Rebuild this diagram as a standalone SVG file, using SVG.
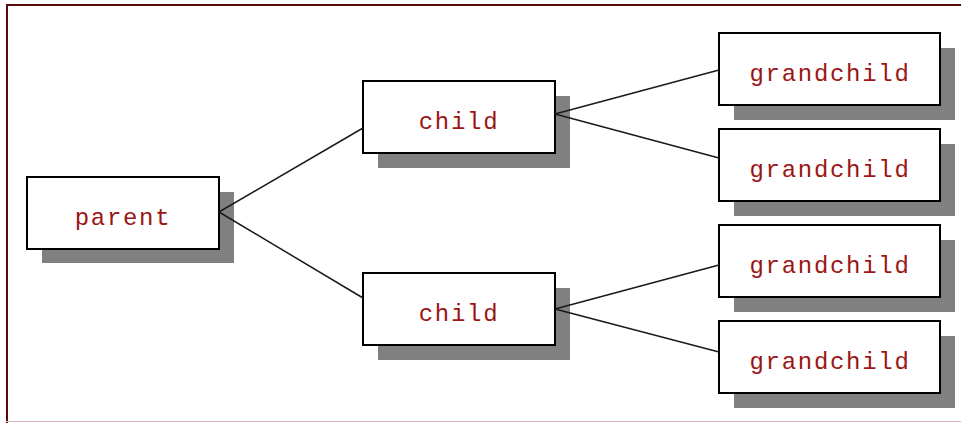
<svg xmlns="http://www.w3.org/2000/svg" width="961" height="423" viewBox="0 0 961 423">
<style>
.shadow{fill:#808080;stroke:none}
.box{fill:#ffffff;stroke:#000000;stroke-width:2}
.lbl{font-family:"Liberation Mono","Courier New",monospace;font-size:24px;fill:#9b1515;text-anchor:middle;letter-spacing:1.7px}
.conn{stroke:#1a1a1a;stroke-width:1.5;fill:none}
</style>
<rect x="0" y="0" width="961" height="423" fill="#ffffff"/>
<line x1="6" y1="5" x2="961" y2="5" stroke="#5a0a0a" stroke-width="2"/>
<line x1="7" y1="4" x2="7" y2="423" stroke="#5a0a0a" stroke-width="2"/>
<line x1="6" y1="421.5" x2="961" y2="421.5" stroke="#d8b8bc" stroke-width="1"/>
<g id="parent">
<rect class="shadow" x="42" y="192" width="192" height="71"/>
<rect class="box" x="27" y="177" width="192" height="72"/>
<text class="lbl" x="123" y="225">parent</text>
</g>
<g id="child1">
<rect class="shadow" x="378" y="96" width="192" height="72"/>
<rect class="box" x="363" y="81" width="192" height="72"/>
<text class="lbl" x="459" y="129">child</text>
</g>
<g id="child2">
<rect class="shadow" x="378" y="288" width="192" height="72"/>
<rect class="box" x="363" y="273" width="192" height="72"/>
<text class="lbl" x="459" y="321">child</text>
</g>
<g id="grandchild1">
<rect class="shadow" x="734" y="48" width="221" height="72"/>
<rect class="box" x="719" y="33" width="221" height="72"/>
<text class="lbl" x="830" y="81">grandchild</text>
</g>
<g id="grandchild2">
<rect class="shadow" x="734" y="144" width="221" height="72"/>
<rect class="box" x="719" y="129" width="221" height="72"/>
<text class="lbl" x="830" y="177">grandchild</text>
</g>
<g id="grandchild3">
<rect class="shadow" x="734" y="240" width="221" height="72"/>
<rect class="box" x="719" y="225" width="221" height="72"/>
<text class="lbl" x="830" y="273">grandchild</text>
</g>
<g id="grandchild4">
<rect class="shadow" x="734" y="336" width="221" height="72"/>
<rect class="box" x="719" y="321" width="221" height="72"/>
<text class="lbl" x="830" y="369">grandchild</text>
</g>
<g id="connectors">
<line class="conn" x1="219" y1="212" x2="363" y2="128"/>
<line class="conn" x1="219" y1="212" x2="363" y2="298"/>
<line class="conn" x1="555" y1="114" x2="719" y2="70"/>
<line class="conn" x1="555" y1="114" x2="719" y2="158"/>
<line class="conn" x1="555" y1="309" x2="719" y2="265"/>
<line class="conn" x1="555" y1="309" x2="719" y2="352"/>
</g>
</svg>
